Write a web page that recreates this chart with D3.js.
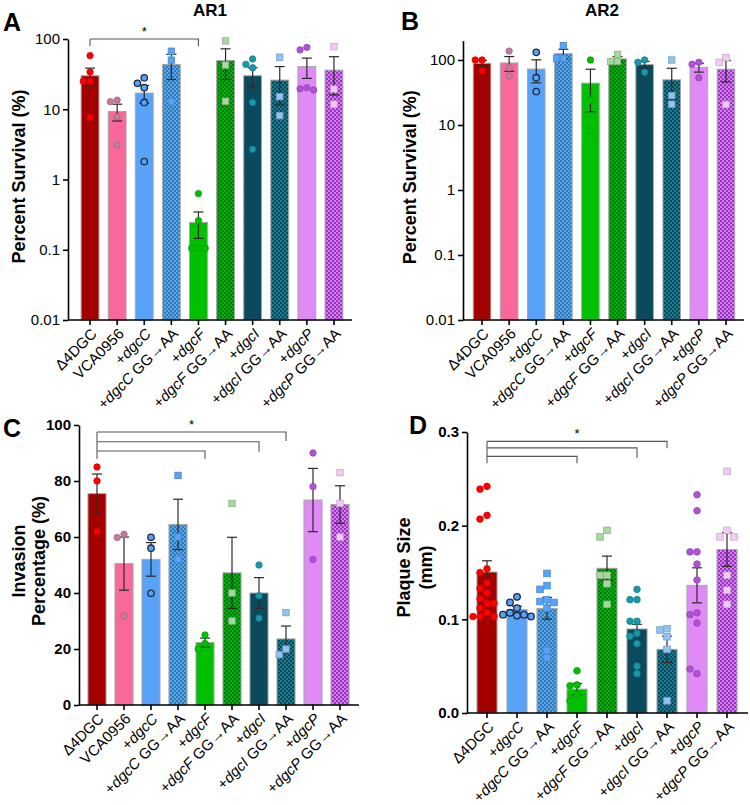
<!DOCTYPE html>
<html>
<head>
<meta charset="utf-8">
<script src="https://cdn.jsdelivr.net/npm/d3@7"></script>
<style>
  body { margin: 0; background: #fff; }
  svg { display: block; }
  text { font-family: "Liberation Sans", Arial, sans-serif; fill: #000; }
</style>
</head>
<body>
<svg id="fig" width="750" height="805"></svg>
<script>
// ---------- DATA ----------
const groupsAll = ["Δ4DGC", "VCA0956", "+dgcC", "+dgcC GG→AA", "+dgcF", "+dgcF GG→AA",
                   "+dgcI", "+dgcI GG→AA", "+dgcP", "+dgcP GG→AA"];
const groupsPlaque = groupsAll.filter(g => g !== "VCA0956");

// A - AR1 survival (%)
const ar1Mean = [30, 9.3, 17, 43.5, 0.245, 49.5, 30, 26, 40.5, 36];
const ar1Sem = [8.5, 2.5, 4.8, 17, 0.1, 23, 9, 14.5, 13, 20];
const ar1Points = [
  [58, 34, 25, 25, 7.7],
  [13.5, 12.8, 7.8, 3.1],
  [28, 23.4, 20.3, 12.5, 1.8],
  [67, 50, 12.8],
  [0.63, 0.26, 0.105, 0.105, 0.105],
  [94, 42.6, 13],
  [52, 43.6, 39, 12.5, 2.7],
  [55, 15.1, 8.1],
  [76, 70, 20.3, 19.5, 18.8],
  [78, 19.4, 11.8]
];

// B - AR2 survival (%)
const ar2Mean = [89, 90, 72.5, 125, 44, 104, 85, 49.5, 77, 72];
const ar2Sem = [9, 23, 28, 21, 28, 9, 10, 25, 12, 26];
const ar2Points = [
  [100, 100, 67.7],
  [137, 76, 56.7],
  [131, 53.4, 32.6],
  [166, 106, 106],
  [100, 24.2, 8.2],
  [122, 95, 95],
  [100, 92, 64.7],
  [100, 28.3, 20.9],
  [92, 86, 53.4],
  [108, 92, 20.7]
];

// C - invasion percentage (%)
const invMean = [75.5, 50.5, 52, 64.5, 22.3, 47.2, 40, 23.6, 73.2, 71.6];
const invSem = [7, 9.5, 6, 9, 1.6, 12.7, 5.5, 4.6, 11.3, 6.7];
const invPoints = [
  [85, 80, 62],
  [61, 59.8, 31.8],
  [59.9, 56, 39.9],
  [82, 60, 52],
  [25, 22, 20],
  [72, 40, 30],
  [50, 39, 31],
  [33, 20, 18],
  [90, 78, 52],
  [83, 72, 60]
];

// D - plaque size (mm)
const plaqueMean = [0.1505, 0.1105, 0.1117, 0.0255, 0.1545, 0.0897, 0.068, 0.1363, 0.1745];
const plaqueSem = [0.012, 0.0035, 0.0115, 0.006, 0.013, 0.005, 0.014, 0.0187, 0.018];
const plaquePoints = [
  [0.242, 0.239, 0.211, 0.207, 0.154, 0.150, 0.139, 0.133, 0.128, 0.122, 0.117, 0.117, 0.112, 0.107, 0.103, 0.103, 0.103],
  [0.124, 0.118, 0.112, 0.107, 0.105, 0.105, 0.104, 0.103],
  [0.149, 0.136, 0.132, 0.121, 0.119, 0.118, 0.112, 0.067, 0.059],
  [0.045, 0.030, 0.029, 0.020, 0.013],
  [0.195, 0.188, 0.147, 0.147, 0.138, 0.116],
  [0.132, 0.121, 0.121, 0.098, 0.098, 0.085, 0.082, 0.074, 0.050, 0.042],
  [0.090, 0.0886, 0.0814, 0.068, 0.013],
  [0.233, 0.216, 0.172, 0.172, 0.159, 0.142, 0.107, 0.105, 0.096, 0.042, 0.047],
  [0.258, 0.195, 0.188, 0.188, 0.147, 0.131, 0.116]
];

const logTicks = [0.01, 0.1, 1, 10, 100];
const invTicks = [0, 20, 40, 60, 80, 100];
const plaqueTicks = [0, 0.1, 0.2, 0.3];

// ---------- STYLES ----------
const groupStyle = {
  "Δ4DGC":        { bar: "#a30000", pt: "#ff0000", shape: "circle" },
  "VCA0956":      { bar: "#f8689b", pt: "#c27c9c", shape: "circle" },
  "+dgcC":        { bar: "#58a2f8", pt: "#58a2f8", shape: "circle", ptStroke: "#1d2b3d" },
  "+dgcC GG→AA":  { bar: "#58a2f8", dots: "#1c6a80", pt: "#58a2f8", shape: "square" },
  "+dgcF":        { bar: "#00c000", pt: "#00c000", shape: "circle" },
  "+dgcF GG→AA":  { bar: "#00b400", dots: "#075a26", pt: "#a8d8a0", shape: "square" },
  "+dgcI":        { bar: "#0a4a5c", pt: "#1898a8", shape: "circle" },
  "+dgcI GG→AA":  { bar: "#0a4a5c", dots: "#1f93a6", pt: "#92c2f2", shape: "square" },
  "+dgcP":        { bar: "#e08af6", pt: "#b052d8", shape: "circle" },
  "+dgcP GG→AA":  { bar: "#d77af5", dots: "#741598", pt: "#f2cbf4", shape: "square" }
};

const svg = d3.select("#fig");
const defs = svg.append("defs");

// dotted fill for the GG->AA bars
Object.entries(groupStyle).forEach(([name, s], i) => {
  if (!s.dots) return;
  s.patId = "pat" + i;
  const p = defs.append("pattern").attr("id", s.patId)
    .attr("width", 4).attr("height", 4).attr("patternUnits", "userSpaceOnUse");
  p.append("rect").attr("width", 4).attr("height", 4).attr("fill", s.bar);
  p.append("circle").attr("cx", 1).attr("cy", 1).attr("r", 0.9).attr("fill", s.dots);
  p.append("circle").attr("cx", 3).attr("cy", 3).attr("r", 0.9).attr("fill", s.dots);
});

// simple greedy beeswarm: keep points in column, shift sideways on collision
function swarm(ys, d) {
  const placed = [];
  return ys.map(y => {
    for (let k = 0; k < 12; k++) {
      const ox = (k === 0 ? 0 : (k % 2 ? -1 : 1) * Math.ceil(k / 2)) * d;
      if (placed.every(p => Math.hypot(p.x - ox, p.y - y) >= d)) {
        placed.push({ x: ox, y });
        return ox;
      }
    }
    return 0;
  });
}

function addLabel(sel, name) {
  // "+dgcC GG→AA" -> "+" + italic gene + rest
  if (name[0] !== "+") { sel.text(name); return; }
  const sp = name.indexOf(" ");
  const gene = sp < 0 ? name.slice(1) : name.slice(1, sp);
  const rest = sp < 0 ? "" : name.slice(sp);
  sel.append("tspan").text("+");
  sel.append("tspan").attr("font-style", "italic").text(gene);
  if (rest) sel.append("tspan").text(rest);
}

function drawPanel(cfg) {
  const g = svg.append("g");
  const y = cfg.y;
  const y0 = y.range()[0];
  const x = d3.scaleBand().domain(cfg.groups).range(cfg.band)
    .paddingInner(cfg.pad).paddingOuter(cfg.pad / 2);
  const bw = x.bandwidth();
  const cx = name => x(name) + bw / 2;

  // bars
  g.append("g").selectAll("rect").data(cfg.groups).join("rect")
    .attr("x", d => x(d))
    .attr("y", (d, i) => y(cfg.means[i]))
    .attr("width", bw)
    .attr("height", (d, i) => y0 - y(cfg.means[i]))
    .attr("fill", d => groupStyle[d].patId ? `url(#${groupStyle[d].patId})` : groupStyle[d].bar)
    .attr("stroke", "#a8a8a8")
    .attr("stroke-width", 1);

  // error bars
  const eb = g.append("g").attr("stroke", "#2a2a2a").attr("stroke-width", 1.2).attr("fill", "none");
  cfg.groups.forEach((name, i) => {
    const m = cfg.means[i], s = cfg.sems[i];
    const hi = y(m + s), lo = y(Math.max(m - s, y.domain()[0]));
    const c = cx(name);
    eb.append("line").attr("x1", c).attr("x2", c).attr("y1", hi).attr("y2", lo);
    eb.append("line").attr("x1", c - 5).attr("x2", c + 5).attr("y1", hi).attr("y2", hi);
    eb.append("line").attr("x1", c - 5).attr("x2", c + 5).attr("y1", lo).attr("y2", lo);
  });

  // individual points
  const r = cfg.r;
  const pg = g.append("g");
  cfg.groups.forEach((name, i) => {
    const st = groupStyle[name];
    const ys = cfg.points[i].map(v => y(v));
    const offs = swarm(ys, 2 * r + 0.4);
    const stroke = st.ptStroke || d3.color(st.pt).darker(0.5).formatHex();
    ys.forEach((py, j) => {
      const px = cx(name) + offs[j];
      if (st.shape === "square") {
        pg.append("rect").attr("x", px - r).attr("y", py - r)
          .attr("width", 2 * r).attr("height", 2 * r)
          .attr("fill", st.pt).attr("stroke", stroke).attr("stroke-width", 0.8);
      } else {
        pg.append("circle").attr("cx", px).attr("cy", py).attr("r", r)
          .attr("fill", st.pt).attr("stroke", stroke)
          .attr("stroke-width", st.ptStroke ? 1.3 : 0.8);
      }
    });
  });

  // y axis
  const ya = g.append("g").attr("transform", `translate(${cfg.axisLeft},0)`)
    .call(d3.axisLeft(y).tickValues(cfg.ticks).tickFormat(cfg.fmt).tickSize(5).tickSizeOuter(0));
  ya.select(".domain").attr("stroke", "#000").attr("stroke-width", 1.6);
  ya.selectAll(".tick line").attr("stroke", "#000").attr("stroke-width", 1.6);
  ya.selectAll(".tick text")
    .attr("font-size", cfg.tickSize)
    .attr("font-weight", cfg.boldTicks ? "bold" : "normal")
    .attr("font-family", '"Liberation Sans", Arial, sans-serif')
    .attr("x", -8);

  // x axis
  g.append("line").attr("x1", cfg.axisLeft).attr("x2", cfg.axisRight)
    .attr("y1", y0).attr("y2", y0).attr("stroke", "#000").attr("stroke-width", 1.6);
  cfg.groups.forEach(name => {
    const c = cx(name);
    g.append("line").attr("x1", c).attr("x2", c).attr("y1", y0).attr("y2", y0 + 5)
      .attr("stroke", "#000").attr("stroke-width", 1.6);
    const t = g.append("text")
      .attr("transform", `translate(${c + 4},${y0 + 11}) rotate(-45)`)
      .attr("text-anchor", "end").attr("dy", "0.35em")
      .attr("font-size", 15);
    addLabel(t, name);
  });

  // y title
  const yc = (y.range()[0] + y.range()[1]) / 2 + cfg.ylabelShift;
  cfg.ylabel.forEach((line, k) => {
    g.append("text")
      .attr("transform", `translate(${cfg.ylabelX[k]},${yc}) rotate(-90)`)
      .attr("text-anchor", "middle").attr("font-size", 18).attr("font-weight", "bold")
      .text(line);
  });

  // panel letter and title
  g.append("text").attr("x", cfg.letterPos[0]).attr("y", cfg.letterPos[1])
    .attr("font-size", 25).attr("font-weight", "bold").text(cfg.letter);
  if (cfg.title) {
    g.append("text").attr("x", cfg.title[1]).attr("y", 16).attr("text-anchor", "middle")
      .attr("font-size", 17).attr("font-weight", "bold").text(cfg.title[0]);
  }

  // significance brackets
  if (cfg.brackets) {
    const bg = g.append("g").attr("stroke", "#555").attr("stroke-width", 1.1).attr("fill", "none");
    const left = cx(cfg.groups[0]);
    const tops = cfg.brackets.map(b => y(b.at));
    const lowest = cfg.brackets[cfg.brackets.length - 1];
    bg.append("line").attr("x1", left).attr("x2", left)
      .attr("y1", d3.min(tops)).attr("y2", y(lowest.at) + lowest.drop);
    cfg.brackets.forEach(b => {
      const yy = y(b.at), xr = cx(b.to);
      bg.append("polyline").attr("points", `${left},${yy} ${xr},${yy} ${xr},${yy + b.drop}`);
    });
    const topB = cfg.brackets[0];
    g.append("text").attr("x", (left + cx(topB.to)) / 2).attr("y", y(topB.at) - 3)
      .attr("text-anchor", "middle").attr("font-size", 13).text("*");
  }
}

const fmtLog = d => String(d);

drawPanel({
  groups: groupsAll, means: ar1Mean, sems: ar1Sem, points: ar1Points,
  y: d3.scaleLog().domain([0.01, 100]).range([320, 39]),
  band: [76.5, 347.5], pad: 0.34, axisLeft: 68, axisRight: 352, r: 3.2,
  ticks: logTicks, fmt: fmtLog, tickSize: 15, boldTicks: false,
  ylabel: ["Percent Survival (%)"], ylabelX: [25], ylabelShift: -3,
  letter: "A", letterPos: [3, 31], title: ["AR1", 210],
  brackets: [{ to: "+dgcF", at: 100, drop: 7 }]
});

drawPanel({
  groups: groupsAll, means: ar2Mean, sems: ar2Sem, points: ar2Points,
  y: d3.scaleLog().domain([0.01, 200]).range([320, 40.4]),
  band: [468.5, 739.5], pad: 0.35, axisLeft: 463, axisRight: 744, r: 3.2,
  ticks: logTicks, fmt: fmtLog, tickSize: 15, boldTicks: false,
  ylabel: ["Percent Survival (%)"], ylabelX: [416], ylabelShift: -3,
  letter: "B", letterPos: [401, 30], title: ["AR2", 602]
});

drawPanel({
  groups: groupsAll, means: invMean, sems: invSem, points: invPoints,
  y: d3.scaleLinear().domain([0, 100]).range([705, 425]),
  band: [83.5, 353.5], pad: 0.33, axisLeft: 79, axisRight: 359, r: 3.2,
  ticks: invTicks, fmt: d => String(d), tickSize: 15, boldTicks: true,
  ylabel: ["Invasion", "Percentage (%)"], ylabelX: [25, 45], ylabelShift: -4,
  letter: "C", letterPos: [3, 437],
  brackets: [
    { to: "+dgcI GG→AA", at: 97.5, drop: 9 },
    { to: "+dgcI", at: 94, drop: 10 },
    { to: "+dgcF", at: 90.7, drop: 8 }
  ]
});

drawPanel({
  groups: groupsPlaque, means: plaqueMean, sems: plaqueSem, points: plaquePoints,
  y: d3.scaleLinear().domain([0, 0.3]).range([713, 432]),
  band: [472, 742], pad: 0.33, axisLeft: 467, axisRight: 748, r: 3.3,
  ticks: plaqueTicks, fmt: d3.format(".1f"), tickSize: 15, boldTicks: true,
  ylabel: ["Plaque Size", "(mm)"], ylabelX: [410, 432], ylabelShift: -5,
  letter: "D", letterPos: [409, 434],
  brackets: [
    { to: "+dgcI GG→AA", at: 0.290, drop: 7 },
    { to: "+dgcI", at: 0.283, drop: 10 },
    { to: "+dgcF", at: 0.274, drop: 7 }
  ]
});
</script>
</body>
</html>
